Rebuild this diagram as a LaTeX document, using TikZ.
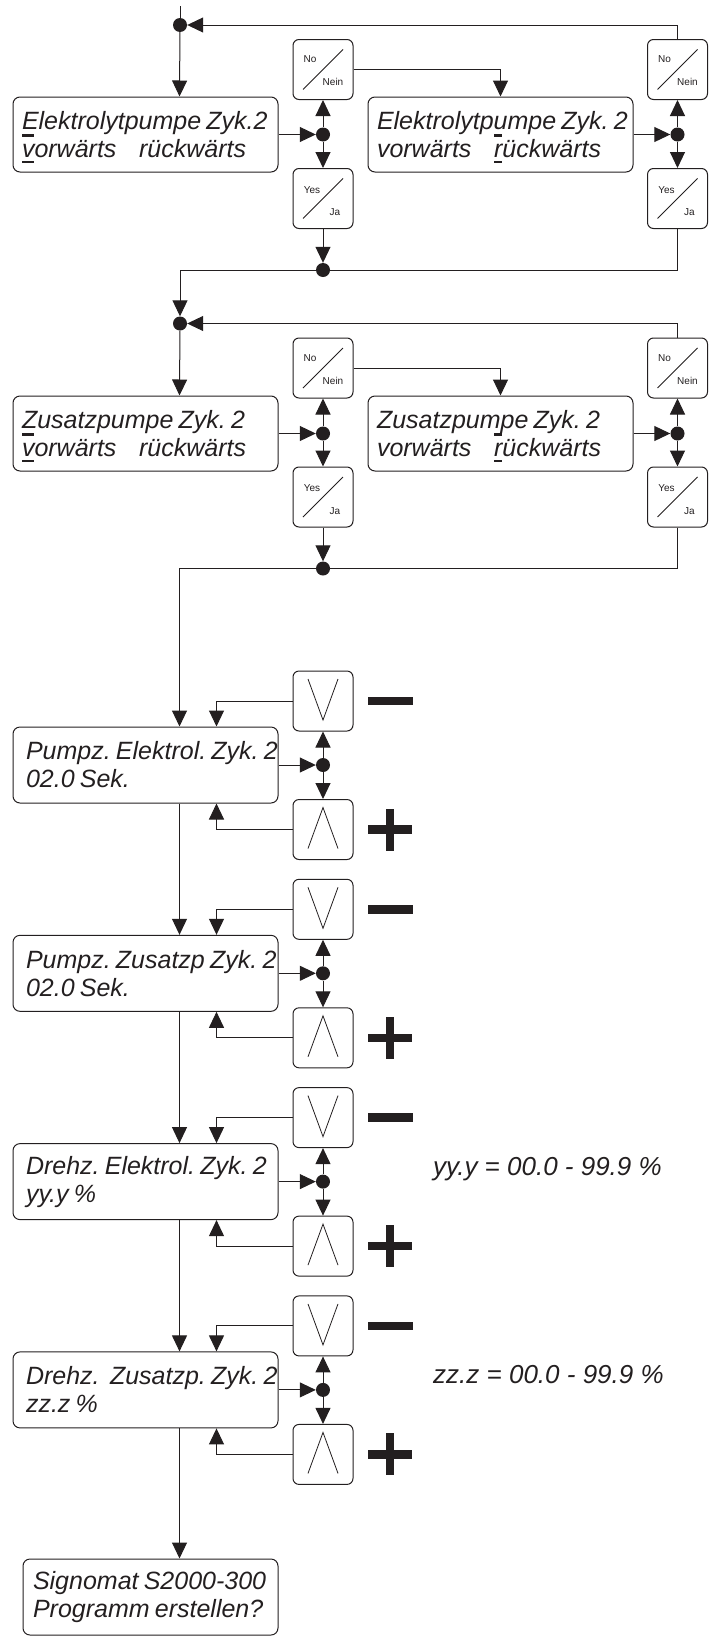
\documentclass[tikz,border=0pt]{standalone}
\usepackage{fontspec}
\setmainfont{Liberation Sans}
\usetikzlibrary{arrows.meta,calc}
\definecolor{ink}{RGB}{35,31,32}
\newsavebox\cmbox
\newcommand\curmark[1]{\leavevmode\sbox\cmbox{#1}\rlap{\smash{\rule[-6pt]{\wd\cmbox}{2.5pt}}}\rlap{\smash{\rule[20.5pt]{\wd\cmbox}{2.5pt}}}#1}
\newcommand\nokey[2]{%
  \node[key] (#1) at (#2) {};
  \draw[thin] ($(#1)+(-20,20)$) -- ($(#1)+(20,-20)$);
  \node[small] (#1a) at ($(#1)+(-13,-10)$) {No};
  \node[small] (#1b) at ($(#1)+(10,12.5)$) {Nein};}
\newcommand\yeskey[2]{%
  \node[key] (#1) at (#2) {};
  \draw[thin] ($(#1)+(-20,20)$) -- ($(#1)+(20,-20)$);
  \node[small] (#1a) at ($(#1)+(-11,-8.5)$) {Yes};
  \node[small] (#1b) at ($(#1)+(12,14)$) {Ja};}
\newcommand\gap{\hspace{0.7em} }
\newcommand\tightsp{\frenchspacing\spaceskip=5.2pt plus 1pt minus 1pt\relax}
\begin{document}
\begin{tikzpicture}[x=1pt,y=-1pt,
  line/.style={draw=ink, line width=1pt},
  arr/.style={line, -{Triangle[length=16pt,width=15pt]}},
  box/.style={draw=ink, line width=1pt, rounded corners=7pt, minimum height=75pt, align=left, text=ink,
    font=\fontsize{25}{28}\selectfont\itshape, execute at begin node=\tightsp},
  boxA/.style={box, inner xsep=9pt, text width=247pt},
  boxB/.style={box, inner xsep=13pt, text width=239pt, minimum height=76pt},
  boxC/.style={box, inner xsep=10pt, text width=235pt, minimum height=76pt},
  key/.style={draw=ink, line width=1pt, rounded corners=6pt, minimum size=60pt, inner sep=0pt},
  dot/.style={circle, fill=ink, inner sep=0pt, minimum size=14pt},
  small/.style={font=\fontsize{10}{12}\selectfont, inner sep=0pt, text=ink},
  thin/.style={draw=ink, line width=0.8pt},
  note/.style={font=\fontsize{26}{28}\selectfont\itshape, text=ink, inner sep=0pt, anchor=base west},
]
\useasboundingbox (0,0) rectangle (716,1641);

% ---------- section 1 ----------
\coordinate (top) at (180,6);
\node[dot] (dA) at (180,25) {};
\node[boxA] (b1) at (145.5,134.5) {\mbox{Elektrolytpumpe Zyk.2}\\\mbox{\curmark{v}orwärts\gap rückwärts}};
\nokey{n1}{323,69.5}
\yeskey{y1}{323,198.5}
\node[dot] (dB) at (323,134.5) {};
\node[boxA] (b2) at (500.5,134.5) {\mbox{Elektrolytpumpe Zyk. 2}\\\mbox{vorwärts\gap \curmark{r}ückwärts}};
\nokey{n2}{677.5,69.5}
\yeskey{y2}{677.5,198.5}
\node[dot] (dC) at (677.5,134.5) {};
\node[dot] (dD) at (323,270) {};

\draw[line] (top) -- (dA);
\draw[arr] (dA) -- ([xshift=167pt]b1.north west);
\draw[arr] (b1.east) -- (dB);
\draw[arr] (dB) -- (n1);
\draw[arr] (dB) -- (y1);
\draw[arr] (n1.east) -| (b2.north);
\draw[arr] (b2.east) -- (dC);
\draw[arr] (dC) -- (n2);
\draw[arr] (dC) -- (y2);
\draw[arr] (n2.north) |- (dA);
\draw[arr] (y1) -- (dD);
\draw[line] (y2.south) |- (dD);

% ---------- section 2 ----------
\node[dot] (eA) at (180,323.5) {};
\node[boxA] (b3) at (145.5,433.5) {\mbox{Zusatzpumpe Zyk. 2}\\\mbox{\curmark{v}orwärts\gap rückwärts}};
\nokey{n3}{323,368}
\yeskey{y3}{323,497}
\node[dot] (eB) at (323,433.5) {};
\node[boxA] (b4) at (500.5,433.5) {\mbox{Zusatzpumpe Zyk. 2}\\\mbox{vorwärts\gap \curmark{r}ückwärts}};
\nokey{n4}{677.5,368}
\yeskey{y4}{677.5,497}
\node[dot] (eC) at (677.5,433.5) {};
\node[dot] (eD) at (323,568.5) {};

\draw[arr] (dD) -| (eA);
\draw[arr] (eA) -- ([xshift=167pt]b3.north west);
\draw[arr] (b3.east) -- (eB);
\draw[arr] (eB) -- (n3);
\draw[arr] (eB) -- (y3);
\draw[arr] (n3.east) -| (b4.north);
\draw[arr] (b4.east) -- (eC);
\draw[arr] (eC) -- (n4);
\draw[arr] (eC) -- (y4);
\draw[arr] (n4.north) |- (eA);
\draw[arr] (y3) -- (eD);
\draw[line] (y4.south) |- (eD);

% ---------- value sections ----------
\foreach \k/\la/\lb in {0/Pumpz. Elektrol. Zyk. 2/02.0 Sek., 1/Pumpz. Zusatzp Zyk. 2/02.0 Sek., 2/Drehz. Elektrol. Zyk. 2/yy.y \%, 3/Drehz.\ \ Zusatzp. Zyk. 2/zz.z \%}{
  \pgfmathsetmacro\yc{765+208.3*\k}
  \node[boxB] (p\k) at (145.5,\yc) {\mbox{\la}\\\mbox{\lb}};
  \node[key] (m\k) at (323,\yc-64) {};
  \draw[thin] ($(m\k)+(-15,-22)$) -- ($(m\k)+(0,19)$) -- ($(m\k)+(15,-22)$);
  \node[key] (q\k) at (323,\yc+64.5) {};
  \draw[thin] ($(q\k)+(-15,19)$) -- ($(q\k)+(0,-22)$) -- ($(q\k)+(15,19)$);
  \node[dot] (g\k) at (323,\yc) {};
  \fill[ink] ($(m\k)+(45,-4.25)$) rectangle ($(m\k)+(90,4.25)$);
  \fill[ink] ($(q\k)+(45,-4.25)$) rectangle ($(q\k)+(89,4.25)$);
  \fill[ink] ($(q\k)+(62.75,-21)$) rectangle ($(q\k)+(71.25,21)$);
  \draw[arr] (p\k.east) -- (g\k);
  \draw[arr] (g\k) -- (m\k);
  \draw[arr] (g\k) -- (q\k);
  \draw[arr] (m\k.west) -| ([xshift=204pt]p\k.north west);
  \draw[arr] (q\k.west) -| ([xshift=204pt]p\k.south west);
}
\draw[arr] (eD) -| ([xshift=167pt]p0.north west);
\foreach \k/\kn in {0/1,1/2,2/3}{
  \draw[arr] ([xshift=167pt]p\k.south west) -- ([xshift=167pt]p\kn.north west);
}
\node[boxC] (b9) at (150.5,1597) {\mbox{Signomat S2000-300}\\\mbox{Programm erstellen?}};
\draw[arr] ([xshift=167pt]p3.south west) -- ([xshift=157pt]b9.north west);

\node[note] (r1) at (433,1175) {yy.y = 00.0 - 99.9 \%};
\node[note] (r2) at (433,1383) {zz.z = 00.0 - 99.9 \%};
\end{tikzpicture}
\end{document}
